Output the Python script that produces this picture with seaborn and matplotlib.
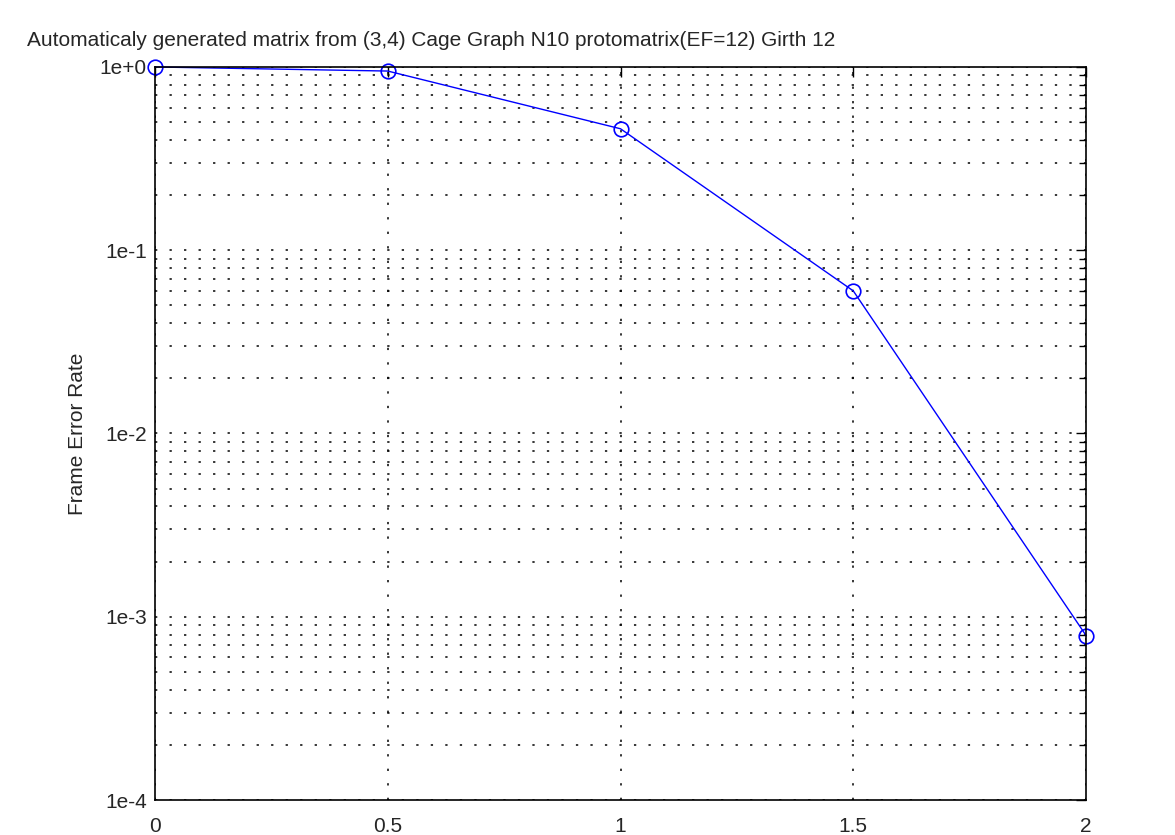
import matplotlib
matplotlib.use("Agg")
import matplotlib.pyplot as plt
import matplotlib.ticker as mticker
import seaborn as sns
import pandas as pd

# Eb/N0 values and measured frame error rate
snr = [0, 0.5, 1, 1.5, 2]
fer = [1.0, 0.95, 0.46, 0.06, 0.00079]

x_ticks = [0, 0.5, 1, 1.5, 2]
x_labels = ["0", "0.5", "1", "1.5", "2"]
y_ticks = [1e-4, 1e-3, 1e-2, 1e-1, 1e0]
y_labels = ["1e-4", "1e-3", "1e-2", "1e-1", "1e+0"]

sns.set_style("white")
plt.rcParams["font.family"] = ["Liberation Sans", "DejaVu Sans"]

df = pd.DataFrame({"snr": snr, "fer": fer})

fig = plt.figure(figsize=(11.75, 8.35), dpi=100)
ax = fig.add_axes([0.1319, 0.0419, 0.7924, 0.8779])

sns.lineplot(data=df, x="snr", y="fer", ax=ax, color="blue", linewidth=1,
             marker="o", markersize=10.5, markerfacecolor="none",
             markeredgecolor="blue", markeredgewidth=1.2, clip_on=False)

ax.set_yscale("log")
ax.set_xlim(0, 2)
ax.set_ylim(1e-4, 1)
ax.set_xticks(x_ticks)
ax.set_xticklabels(x_labels)
ax.set_yticks(y_ticks)
ax.set_yticklabels(y_labels)
ax.yaxis.set_minor_locator(mticker.LogLocator(base=10, subs=range(2, 10), numticks=20))
ax.yaxis.set_minor_formatter(mticker.NullFormatter())

dots = (0, (1.5, 8))
ax.grid(True, which="major", color="black", linestyle=dots, linewidth=1.1)
ax.grid(True, which="minor", axis="y", color="black", linestyle=dots, linewidth=1.1)

ax.tick_params(which="both", direction="in", top=True, right=True, labelsize=15,
               length=7, width=1, color="black")
ax.tick_params(which="minor", length=5)
ax.tick_params(axis="x", pad=12)
ax.tick_params(axis="y", pad=6)

for s in ax.spines.values():
    s.set_color("black")
    s.set_linewidth(1.2)

ax.set_xlabel("")
ax.set_ylabel("Frame Error Rate", fontsize=15, labelpad=9)
fig.text(27 / 1175, 1 - 40 / 835,
         "Automaticaly generated matrix from (3,4) Cage Graph N10 protomatrix(EF=12) Girth 12",
         fontsize=15, va="center", ha="left")

fig.savefig("out.png", dpi=100)
